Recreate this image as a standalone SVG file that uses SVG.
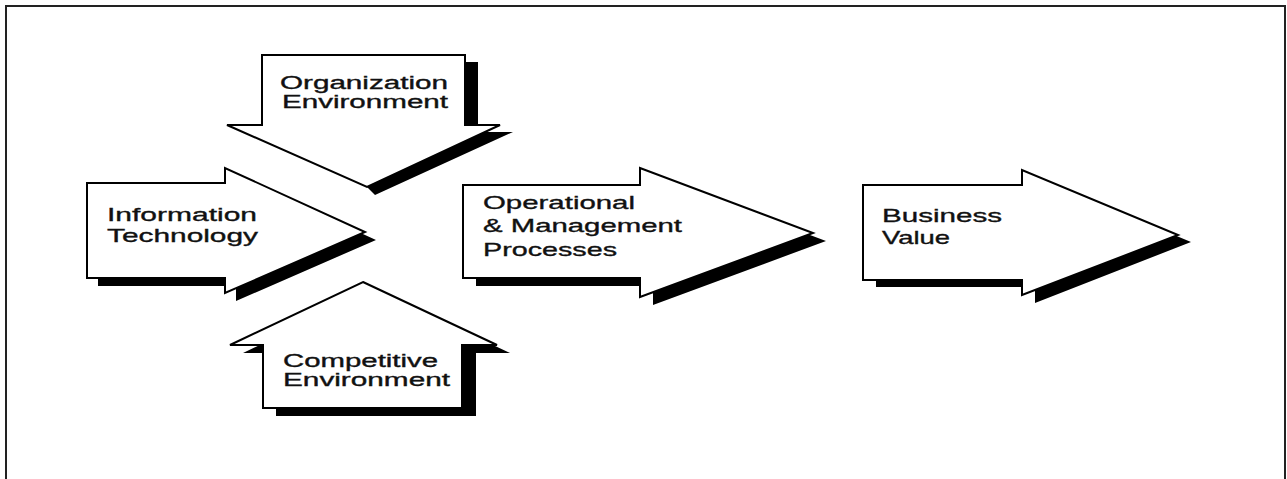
<svg xmlns="http://www.w3.org/2000/svg" width="1287" height="479" viewBox="0 0 1287 479">
  <style>
    .shadow { fill: #000; }
    .body { fill: #fff; stroke: #000; stroke-width: 2; stroke-linejoin: miter; }
    .label { font-family: "Liberation Sans", Arial, sans-serif; font-size: 19px; fill: #111; stroke: #111; stroke-width: 0.35; }
    .tight { font-size: 18px; }
    .frame { fill: none; stroke: #222; stroke-width: 2; }
  </style>
  <rect width="1287" height="479" fill="#fff"/>
  <!-- outer frame, open at the bottom edge -->
  <path class="frame" d="M6,479 V6 H1285 V479"/>

  <!-- down arrow: organization environment -->
  <g id="organization-environment">
    <polygon class="shadow" points="465,62 478,62 478,132 513,132 375,195 367,187"/>
    <polygon class="body" points="262,55 465,55 465,125 500,125 367,187 227,125 262,125"/>
    <text class="label tight" x="280" y="89" textLength="168" lengthAdjust="spacingAndGlyphs">Organization</text>
    <text class="label tight" x="282" y="108" textLength="166" lengthAdjust="spacingAndGlyphs">Environment</text>
  </g>

  <!-- right arrow: information technology -->
  <g id="information-technology">
    <polygon class="shadow" points="98,191 236,191 236,176 376,240 236,301 236,286 98,286"/>
    <polygon class="body" points="87,183 225,183 225,168 365,232 225,293 225,278 87,278"/>
    <text class="label" x="107" y="221" textLength="150" lengthAdjust="spacingAndGlyphs">Information</text>
    <text class="label" x="107" y="242" textLength="151" lengthAdjust="spacingAndGlyphs">Technology</text>
  </g>

  <!-- up arrow: competitive environment -->
  <g id="competitive-environment">
    <polygon class="shadow" points="376,290 510,353 476,353 476,416 276,416 276,353 243,353"/>
    <polygon class="body" points="363,282 497,345 462,345 462,408 263,408 263,345 230,345"/>
    <text class="label tight" x="283" y="367" textLength="155" lengthAdjust="spacingAndGlyphs">Competitive</text>
    <text class="label tight" x="283" y="386" textLength="167" lengthAdjust="spacingAndGlyphs">Environment</text>
  </g>

  <!-- right arrow: operational & management processes -->
  <g id="operational-processes">
    <polygon class="shadow" points="476,193 653,193 653,176 826,241 653,305 653,286 476,286"/>
    <polygon class="body" points="463,185 640,185 640,168 813,233 640,297 640,278 463,278"/>
    <text class="label" x="483" y="209" textLength="152" lengthAdjust="spacingAndGlyphs">Operational</text>
    <text class="label" x="483" y="232" textLength="199" lengthAdjust="spacingAndGlyphs">&amp; Management</text>
    <text class="label" x="483" y="256" textLength="134" lengthAdjust="spacingAndGlyphs">Processes</text>
  </g>

  <!-- right arrow: business value -->
  <g id="business-value">
    <polygon class="shadow" points="876,192 1035,192 1035,177 1191,242 1035,303 1035,287 876,287"/>
    <polygon class="body" points="863,185 1022,185 1022,170 1178,235 1022,295 1022,280 863,280"/>
    <text class="label" x="882" y="222" textLength="120" lengthAdjust="spacingAndGlyphs">Business</text>
    <text class="label" x="882" y="244" textLength="68" lengthAdjust="spacingAndGlyphs">Value</text>
  </g>

  <!-- no separate connectors: the arrows themselves carry the flow -->
  <g id="connectors"/>
</svg>
